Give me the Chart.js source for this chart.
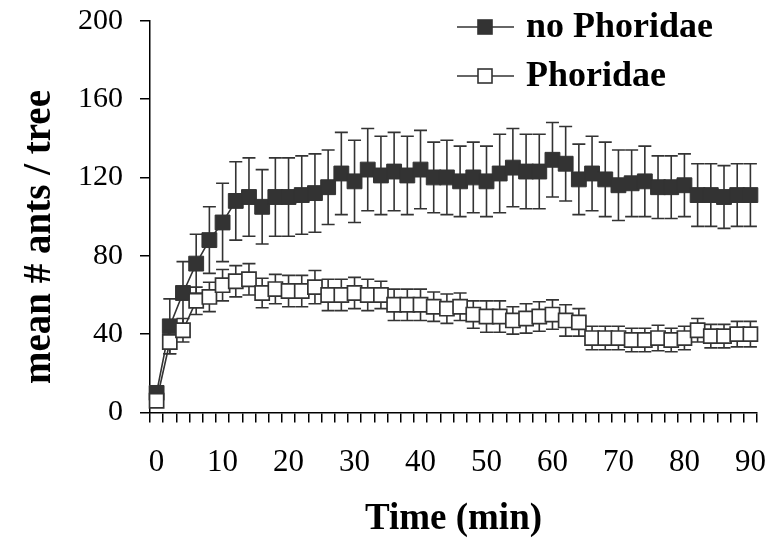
<!DOCTYPE html>
<html lang="en">
<head>
    <meta charset="UTF-8">
    <title>Ants per tree with and without Phoridae</title>
    <script src="https://cdnjs.cloudflare.com/ajax/libs/Chart.js/4.4.1/chart.umd.min.js"></script>
    <style>
        body {
            margin: 0;
            background: #fff;
        }
        .chart-container {
            position: relative;
            width: 783px;
            height: 542px;
        }
    </style>
</head>
<body>
    <div class="chart-container">
        <canvas id="antChart"></canvas>
    </div>

    <script>
        // Data (time in minutes, mean ants per tree, +/- error)
        const times = [0, 2, 4, 6, 8, 10, 12, 14, 16, 18, 20, 22, 24, 26, 28, 30, 32, 34, 36, 38, 40, 42, 44,
            46, 48, 50, 52, 54, 56, 58, 60, 62, 64, 66, 68, 70, 72, 74, 76, 78, 80, 82, 84, 86, 88, 90];

        const noPhoridae = [10, 44, 61, 76, 88, 97, 108, 110, 105, 110, 110, 111, 112, 115, 122, 118, 124, 121, 123, 121, 124, 120, 120,
            118, 120, 118, 122, 125, 123, 123, 129, 127, 119, 122, 119, 116, 117, 118, 115, 115, 116, 111, 111, 110, 111, 111];
        const noPhoridaeErr = [1, 14, 16, 15, 17, 20, 20, 20, 19, 20, 20, 20, 20, 19, 21, 21, 21, 20, 20, 20, 20, 18, 19,
            18, 18, 18, 20, 20, 19, 19, 19, 19, 18, 19, 19, 18, 17, 18, 16, 16, 16, 16, 16, 16, 16, 16];

        const phoridae = [6, 36, 42, 57, 59, 65, 67, 68, 61, 63, 62, 62, 64, 60, 60, 61, 60, 60, 55, 55, 55, 54, 53,
            54, 50, 49, 49, 47, 48, 49, 50, 47, 46, 38, 38, 38, 37, 37, 38, 37, 38, 42, 39, 39, 40, 40];
        const phoridaeErr = [2, 6, 6, 7, 7.5, 8, 8, 8, 7.5, 7.5, 8, 8, 8.5, 8, 8, 8, 8, 7, 8, 8, 8, 7.5, 7.5,
            7, 7, 8, 8, 7, 7.5, 7.5, 7.5, 8, 7, 6, 6, 6, 6, 6, 6.5, 6, 6, 6, 6, 6, 6.5, 6.5];

        const yTicks = [0, 40, 80, 120, 160, 200];

        const serif = "'Liberation Serif', 'Times New Roman', serif";
        const ink = '#333333';

        // Error bars, drawn just before each dataset so later sets sit on top
        const errorBars = {
            id: 'errorBars',
            beforeDatasetDraw(chart, args) {
                const ds = chart.data.datasets[args.index];
                if (!ds.errors) return;
                const ctx = chart.ctx;
                const y = chart.scales.y;
                const cap = 6.5;
                ctx.save();
                ctx.strokeStyle = ink;
                ctx.lineWidth = 1.6;
                args.meta.data.forEach((pt, i) => {
                    const top = y.getPixelForValue(ds.data[i] + ds.errors[i]);
                    const bot = y.getPixelForValue(ds.data[i] - ds.errors[i]);
                    ctx.beginPath();
                    ctx.moveTo(pt.x, top);
                    ctx.lineTo(pt.x, bot);
                    ctx.moveTo(pt.x - cap, top);
                    ctx.lineTo(pt.x + cap, top);
                    ctx.moveTo(pt.x - cap, bot);
                    ctx.lineTo(pt.x + cap, bot);
                    ctx.stroke();
                });
                ctx.restore();
            }
        };

        // Legend with line-through-marker symbols, plus the rotated y title
        const extras = {
            id: 'extras',
            afterDraw(chart) {
                const ctx = chart.ctx;
                ctx.save();

                const rows = [
                    { ds: chart.data.datasets[0], y: 27 },
                    { ds: chart.data.datasets[1], y: 76 }
                ];
                rows.forEach(row => {
                    ctx.strokeStyle = ink;
                    ctx.lineWidth = 1.6;
                    ctx.beginPath();
                    ctx.moveTo(457, row.y);
                    ctx.lineTo(514, row.y);
                    ctx.stroke();
                    ctx.fillStyle = row.ds.pointBackgroundColor;
                    ctx.fillRect(478, row.y - 7, 14, 14);
                    ctx.lineWidth = 1.6;
                    ctx.strokeRect(478, row.y - 7, 14, 14);

                    ctx.fillStyle = '#000';
                    ctx.font = 'bold 36px ' + serif;
                    ctx.textAlign = 'left';
                    ctx.textBaseline = 'middle';
                    ctx.fillText(row.ds.label, 526, row.y + 1);
                });

                ctx.translate(40, 237);
                ctx.rotate(-Math.PI / 2);
                ctx.fillStyle = '#000';
                ctx.font = 'bold 39px ' + serif;
                ctx.textAlign = 'center';
                ctx.textBaseline = 'middle';
                ctx.fillText('mean # ants / tree', 0, 0);
                ctx.restore();
            }
        };

        const ctx = document.getElementById('antChart').getContext('2d');
        const antChart = new Chart(ctx, {
            type: 'line',
            data: {
                labels: times,
                datasets: [{
                    label: 'no Phoridae',
                    data: noPhoridae,
                    errors: noPhoridaeErr,
                    borderColor: ink,
                    borderWidth: 1.6,
                    pointStyle: 'rect',
                    pointRadius: 10.5,
                    pointBackgroundColor: ink,
                    pointBorderColor: ink,
                    pointBorderWidth: 1,
                    tension: 0,
                    order: 2
                }, {
                    label: 'Phoridae',
                    data: phoridae,
                    errors: phoridaeErr,
                    borderColor: ink,
                    borderWidth: 1.6,
                    pointStyle: 'rect',
                    pointRadius: 10,
                    pointBackgroundColor: '#ffffff',
                    pointBorderColor: ink,
                    pointBorderWidth: 1.7,
                    tension: 0,
                    order: 1
                }]
            },
            options: {
                responsive: true,
                maintainAspectRatio: false,
                animation: false,
                layout: {
                    padding: { top: 20.7, right: 26, left: 0, bottom: 0 }
                },
                plugins: {
                    legend: { display: false },
                    tooltip: { enabled: false }
                },
                scales: {
                    x: {
                        type: 'category',
                        offset: true,
                        grid: {
                            offset: true,
                            drawOnChartArea: false,
                            tickLength: 10,
                            color: '#000',
                            lineWidth: 1.5
                        },
                        border: { color: '#000', width: 1.5 },
                        ticks: {
                            autoSkip: false,
                            maxRotation: 0,
                            padding: 22,
                            color: '#000',
                            font: { family: serif, size: 31 },
                            callback: (value, index) => times[index] % 10 === 0 ? String(times[index]) : ''
                        },
                        title: {
                            display: true,
                            text: 'Time (min)',
                            color: '#000',
                            font: { family: serif, size: 37, weight: 'bold' },
                            padding: { top: 0, bottom: 0 }
                        },
                        afterFit: (scale) => {
                            scale.height = 129.5;
                            scale.paddingLeft = 0;
                            scale.paddingRight = 0;
                        }
                    },
                    y: {
                        min: 0,
                        max: 200,
                        afterBuildTicks: (scale) => { scale.ticks = yTicks.map(v => ({ value: v })); },
                        grid: {
                            drawOnChartArea: false,
                            tickLength: 10,
                            color: '#000',
                            lineWidth: 1.5
                        },
                        border: { color: '#000', width: 1.5 },
                        ticks: {
                            padding: 17,
                            color: '#000',
                            font: { family: serif, size: 30 }
                        },
                        afterFit: (scale) => {
                            scale.width = 150;
                            scale.paddingTop = 0;
                            scale.paddingBottom = 0;
                        }
                    }
                }
            },
            plugins: [errorBars, extras]
        });
    </script>
</body>
</html>
